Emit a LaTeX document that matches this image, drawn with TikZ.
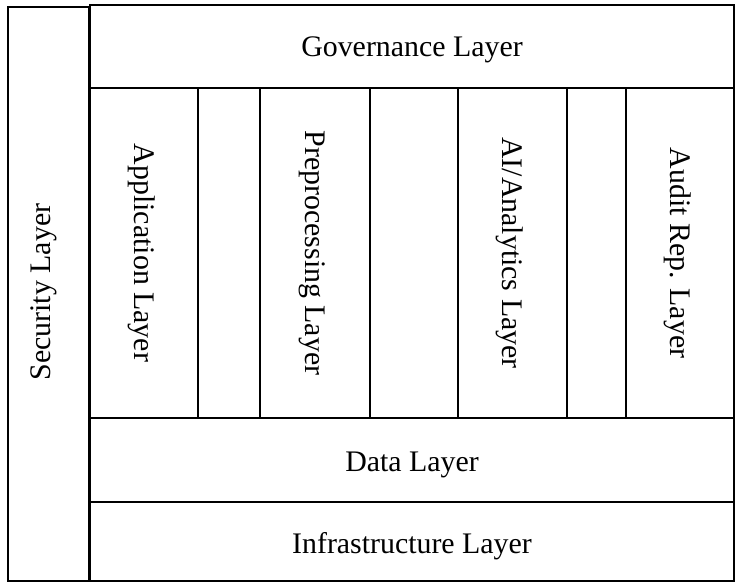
\documentclass[tikz,border=0pt]{standalone}
\usepackage{fontspec}
\setmainfont{Liberation Serif}
\tikzset{
  layerbox/.style={draw=black, line width=1.1pt},
  layertext/.style={font=\fontsize{17}{20}\selectfont, inner sep=0pt,
                    text height=11.2pt, text depth=0pt},
}

\begin{document}
\begin{tikzpicture}[x=0.02cm, y=-0.02cm] % <- one unit per pixel
   \useasboundingbox (0,0) rectangle (735,583);
   % Security layer on the left side
   \draw [layerbox] (8,7) rectangle (89,581);
   \node[layertext, rotate=90] (sec) at (41,292) {Security Layer};
   % Governance layer on top
   \draw [layerbox] (90,5) rectangle (734,88)
      node[midway, layertext] (gov) {Governance Layer};
   % Vertical layers in the middle
   \draw [layerbox] (90,88) rectangle (198,418)
      node[midway, layertext, rotate=-90] (app) {Application Layer};
   \draw [layerbox] (198,88) rectangle (260,418);
   \draw [layerbox] (260,88) rectangle (370,418)
      node[midway, layertext, rotate=-90] (pre) {Preprocessing Layer};
   \draw [layerbox] (370,88) rectangle (458,418);
   \draw [layerbox] (458,88) rectangle (567,418)
      node[midway, layertext, rotate=-90] (ai) {AI/Analytics Layer};
   \draw [layerbox] (567,88) rectangle (626,418);
   \draw [layerbox] (626,88) rectangle (734,418)
      node[midway, layertext, rotate=-90] (aud) {Audit Rep. Layer};
   % Data and infrastructure layers at the bottom
   \draw [layerbox] (90,418) rectangle (734,502)
      node[midway, layertext, yshift=-1pt] (data) {Data Layer};
   \draw [layerbox] (90,502) rectangle (734,581)
      node[midway, layertext, yshift=-1.5pt] (infra) {Infrastructure Layer};
\end{tikzpicture}
\end{document}
